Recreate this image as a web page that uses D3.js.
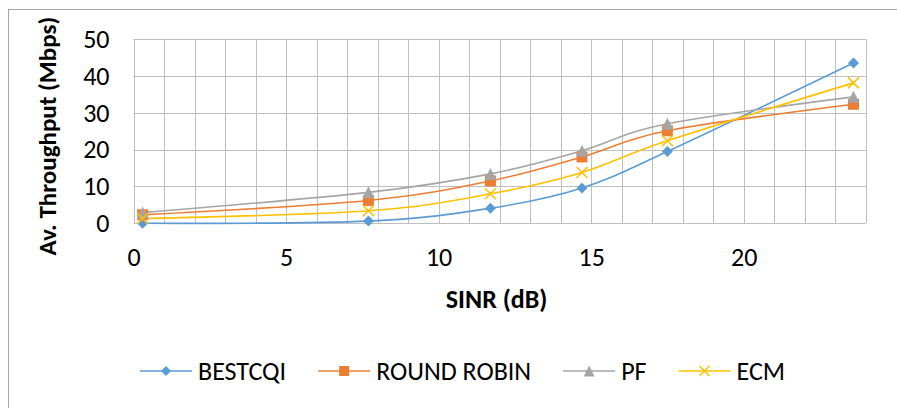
<!DOCTYPE html>
<html>
<head>
<meta charset="utf-8">
<script src="https://cdn.jsdelivr.net/npm/d3@7"></script>
<style>
  body { margin: 0; background: #fff; }
  svg { display: block; font-family: Carlito, Lato, "Open Sans", sans-serif; }
</style>
</head>
<body>
<div id="chart"></div>
<script>
// ===========================
// Av. throughput vs SINR
// Smoothed line chart, four schedulers
// ===========================

const sinr = [0.3, 7.7, 11.7, 14.7, 17.5, 23.6];
const bestCqi = [0, 0.6, 4.1, 9.6, 19.5, 43.5];
const roundRobin = [2.3, 6.2, 11.5, 18.0, 25.1, 32.3];
const pf = [2.9, 8.4, 13.4, 19.7, 27.0, 34.3];
const ecm = [1.3, 3.4, 8.0, 13.8, 22.4, 38.1];

const seriesNames = ['BESTCQI', 'ROUND ROBIN', 'PF', 'ECM'];
const xTicks = [0, 5, 10, 15, 20];
const yTicks = [0, 10, 20, 30, 40, 50];

const width = 897, height = 408;
const plot = { left: 133.5, right: 865.7, top: 39, bottom: 223.3 };
const fontSize = 26;

const colors = {
    'BESTCQI': '#5B9BD5',
    'ROUND ROBIN': '#ED7D31',
    'PF': '#A5A5A5',
    'ECM': '#FFC000'
};
const markers = {
    'BESTCQI': 'diamond',
    'ROUND ROBIN': 'square',
    'PF': 'triangle',
    'ECM': 'cross'
};
const markerSize = { diamond: 11, square: 11, triangle: 12, cross: 11 };

const series = [bestCqi, roundRobin, pf, ecm].map((vals, i) => ({
    name: seriesNames[i],
    points: vals.map((v, j) => ({ x: sinr[j], y: v }))
}));

const svg = d3.select('#chart')
    .append('svg')
    .attr('width', width)
    .attr('height', height);

// chart frame (right and bottom edges fall outside the picture)
svg.append('rect')
    .attr('x', 8.5)
    .attr('y', 9.5)
    .attr('width', 920)
    .attr('height', 420)
    .attr('fill', 'none')
    .attr('stroke', '#A6A6A6')
    .attr('stroke-width', 1);

const xScale = d3.scaleLinear().domain([0, 24]).range([plot.left, plot.right]);
const yScale = d3.scaleLinear().domain([0, 50]).range([plot.bottom, plot.top]);

// Gridlines
const grid = svg.append('g').attr('stroke', '#BFBFBF').attr('stroke-width', 1);
grid.selectAll('.vgrid')
    .data(d3.range(0, 25))
    .join('line')
    .attr('x1', d => Math.round(xScale(d)) + 0.5)
    .attr('x2', d => Math.round(xScale(d)) + 0.5)
    .attr('y1', plot.top)
    .attr('y2', plot.bottom);
grid.selectAll('.hgrid')
    .data(yTicks)
    .join('line')
    .attr('x1', plot.left)
    .attr('x2', plot.right)
    .attr('y1', d => Math.round(yScale(d)) + 0.5)
    .attr('y2', d => Math.round(yScale(d)) + 0.5);

// Axes (labels only, lines come from the grid)
const xAxis = svg.append('g')
    .attr('transform', `translate(0,${plot.bottom})`)
    .call(d3.axisBottom(xScale).tickValues(xTicks).tickSize(0).tickPadding(24));
const yAxis = svg.append('g')
    .attr('transform', `translate(${plot.left},0)`)
    .call(d3.axisLeft(yScale).tickValues(yTicks).tickSize(0).tickPadding(24));

[xAxis, yAxis].forEach(ax => {
    ax.select('.domain').remove();
    ax.selectAll('text')
        .attr('fill', '#000')
        .style('font-size', fontSize + 'px')
        .style('font-family', 'Carlito, Lato, "Open Sans", sans-serif');
});

// Axis titles
svg.append('text')
    .attr('x', (plot.left + plot.right) / 2 - 3)
    .attr('y', 308)
    .attr('text-anchor', 'middle')
    .attr('fill', '#000')
    .style('font-size', fontSize + 'px')
    .style('font-weight', '700')
    .text('SINR (dB)');

svg.append('text')
    .attr('transform', `translate(56,${(plot.top + plot.bottom) / 2 + 5}) rotate(-90)`)
    .attr('text-anchor', 'middle')
    .attr('fill', '#000')
    .style('font-size', (fontSize - 1) + 'px')
    .style('font-weight', '700')
    .text('Av. Throughput (Mbps)');

// Lines
const line = d3.line()
    .x(d => xScale(d.x))
    .y(d => yScale(d.y))
    .curve(d3.curveCardinal.tension(0));

svg.append('g').selectAll('path')
    .data(series)
    .join('path')
    .attr('d', d => line(d.points))
    .attr('fill', 'none')
    .attr('stroke', d => colors[d.name])
    .attr('stroke-width', 1.6);

// Marker drawing
function drawMarker(g, type, color, size) {
    const h = size / 2;
    if (type === 'diamond') {
        g.append('path')
            .attr('d', `M0,${-h}L${h},0L0,${h}L${-h},0Z`)
            .attr('fill', color);
    } else if (type === 'square') {
        g.append('rect')
            .attr('x', -h).attr('y', -h)
            .attr('width', size).attr('height', size)
            .attr('fill', color);
    } else if (type === 'triangle') {
        g.append('path')
            .attr('d', `M0,${-h}L${h},${h}L${-h},${h}Z`)
            .attr('fill', color);
    } else {
        g.append('path')
            .attr('d', `M${-h},${-h}L${h},${h}M${h},${-h}L${-h},${h}`)
            .attr('stroke', color)
            .attr('stroke-width', 1.5)
            .attr('fill', 'none');
    }
}

series.forEach(s => {
    const type = markers[s.name];
    s.points.forEach(p => {
        const g = svg.append('g')
            .attr('transform', `translate(${xScale(p.x)},${yScale(p.y)})`);
        drawMarker(g, type, colors[s.name], markerSize[type]);
    });
});

// Legend
const legend = svg.append('g').attr('transform', 'translate(0,371)');
const lineLen = 52, textGap = 6, itemGap = 32;
let cx = 140;
seriesNames.forEach(name => {
    legend.append('line')
        .attr('x1', cx).attr('x2', cx + lineLen)
        .attr('y1', 0).attr('y2', 0)
        .attr('stroke', colors[name])
        .attr('stroke-width', 1.6);
    const g = legend.append('g').attr('transform', `translate(${cx + lineLen / 2},0)`);
    drawMarker(g, markers[name], colors[name], markerSize[markers[name]] - 1);
    const t = legend.append('text')
        .attr('x', cx + lineLen + textGap)
        .attr('dy', '0.35em')
        .attr('fill', '#000')
        .style('font-size', fontSize + 'px')
        .text(name);
    cx += lineLen + textGap + t.node().getComputedTextLength() + itemGap;
});
</script>
</body>
</html>
